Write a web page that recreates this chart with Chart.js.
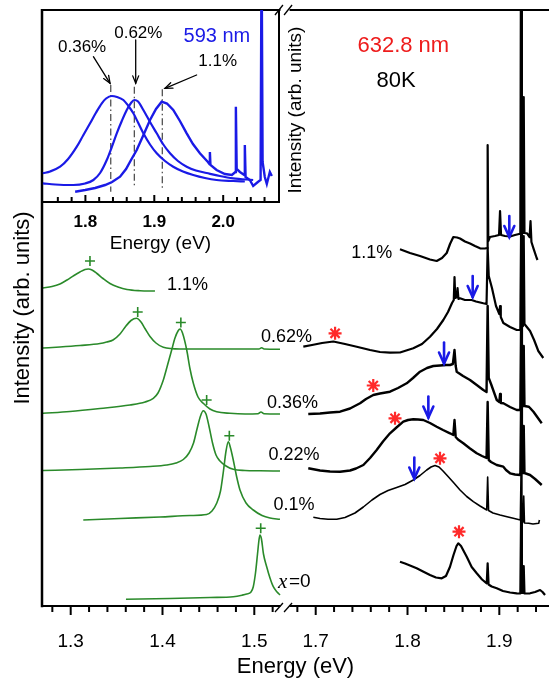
<!DOCTYPE html>
<html><head><meta charset="utf-8">
<script src="https://cdn.jsdelivr.net/npm/chart.js@4/dist/chart.umd.min.js"></script>
<style>
html,body{margin:0;padding:0;background:#fff;}
#wrap{position:relative;width:549px;height:681px;overflow:hidden;}
canvas{position:absolute;left:0;top:0;}
</style></head><body>
<div id="wrap"><canvas id="main" width="549" height="681" style="width:549px;height:681px"></canvas><canvas id="inset" width="320" height="260" style="width:320px;height:260px"></canvas></div>
<script>
// ---------------- DATA (energy in eV, intensity in arb. units) ----------------
// Main panel, band-edge PL (green, left segment)
const green_1_1 = [[1.2698,318],[1.2796,319.5],[1.2883,322],[1.2960,326],[1.3036,330.5],[1.3101,334],[1.3156,336.5],[1.3192,337],[1.3232,336],[1.3286,332.5],[1.3352,327.5],[1.3428,322.5],[1.3515,319],[1.3613,316.5],[1.3755,315.3],[1.3918,315]];
const green_0_62 = [[1.2698,258],[1.2883,259],[1.3101,260.5],[1.3319,262.5],[1.3392,264],[1.3461,266],[1.3537,272],[1.3602,280],[1.3657,285.5],[1.3717,287.7],[1.3766,284],[1.3809,277.5],[1.3864,269.5],[1.3929,263],[1.4009,258.7],[1.4191,257],[1.4408,257],[1.4735,257],[1.5051,257],[1.5081,258.3],[1.5106,257],[1.5280,256.7]];
const green_0_36 = [[1.2698,192.7],[1.2992,194.5],[1.3319,197.5],[1.3646,201],[1.3810,204],[1.3900,207.7],[1.3951,213],[1.4009,226],[1.4055,241],[1.4100,256],[1.4136,268],[1.4169,275],[1.4191,277],[1.4218,273],[1.4264,256],[1.4300,237],[1.4336,222.7],[1.4387,209],[1.4444,202.7],[1.4517,197],[1.4590,194.3],[1.4735,192.7],[1.4899,192],[1.5040,192.2],[1.5073,194],[1.5106,192.3],[1.5280,192]];
const green_0_22 = [[1.2698,135.5],[1.3101,136.5],[1.3537,138],[1.3864,139.5],[1.4046,141],[1.4147,143],[1.4227,146.5],[1.4289,153],[1.4338,163],[1.4376,177],[1.4414,190],[1.4444,195.3],[1.4474,192],[1.4506,180],[1.4545,163],[1.4583,151],[1.4626,145],[1.4692,140],[1.4771,136.7],[1.4899,135.5],[1.5062,135.2],[1.5280,135]];
const green_0_1 = [[1.3137,86],[1.3537,87.5],[1.3973,89],[1.4300,90.5],[1.4481,91.5],[1.4539,95],[1.4590,102.7],[1.4632,115],[1.4664,135],[1.4692,155],[1.4717,164.3],[1.4741,158],[1.4771,146],[1.4806,130],[1.4844,116],[1.4910,103],[1.4989,96],[1.5084,90.5],[1.5171,88],[1.5280,86.7]];
const green_0 = [[1.3602,6.7],[1.4081,7.5],[1.4517,8.5],[1.4771,9.3],[1.4866,10.8],[1.4917,12],[1.4964,14],[1.4989,19.3],[1.5013,33],[1.5035,52],[1.5051,66],[1.5062,71],[1.5078,67],[1.5100,52],[1.5135,39.3],[1.5171,28],[1.5207,19.3],[1.5248,14],[1.5280,11]];
const greenPeaks = [[1.3210,345],[1.3730,294],[1.4200,283.5],[1.4481,206],[1.4728,170.3],[1.5070,77.7]];

// Main panel, 632.8 nm excitation (black, right segment)
const black_1_1 = [[1.7918,356.7],[1.8027,353],[1.8136,350],[1.8245,346.5],[1.8318,345],[1.8376,348],[1.8427,353],[1.8463,362],[1.8499,369],[1.8540,368.5],[1.8572,367.5],[1.8626,364.5],[1.8681,362.5],[1.8735,360],[1.8790,357.7],[1.8844,357.5],[1.8866,358],[1.8873,461],[1.8880,365],[1.8898,369],[1.8953,370],[1.8997,371],[1.9008,395],[1.9019,371],[1.9062,370],[1.9117,369.5],[1.9171,371],[1.9215,372],[1.9229,372],[1.9237,700],[1.9246,374],[1.9258,373],[1.9266,509],[1.9274,373],[1.9302,372.7],[1.9330,369],[1.9340,385],[1.9350,364],[1.9372,357.7],[1.9407,348],[1.9416,346]];
const black_0_62 = [[1.6865,259.3],[1.6960,261],[1.7069,263],[1.7192,264.5],[1.7319,262],[1.7447,259.3],[1.7592,256],[1.7700,254],[1.7809,253.3],[1.7918,253.5],[1.8063,257.7],[1.8158,262],[1.8245,269.3],[1.8321,277],[1.8390,286],[1.8441,294],[1.8485,303],[1.8504,306],[1.8512,329],[1.8520,308],[1.8535,309],[1.8545,318],[1.8555,307],[1.8572,307.7],[1.8626,306],[1.8699,306],[1.8746,304.5],[1.8826,302.7],[1.8861,302],[1.8873,358],[1.8885,330],[1.8920,318],[1.8964,300],[1.9000,292],[1.9008,300],[1.9016,289],[1.9044,283],[1.9117,279],[1.9190,276],[1.9229,276],[1.9237,375],[1.9246,279],[1.9258,280],[1.9266,370],[1.9274,282],[1.9300,279],[1.9335,275],[1.9379,266],[1.9425,255],[1.9479,248]];
const black_0_36 = [[1.6919,192],[1.7047,192.5],[1.7156,193.5],[1.7265,194.3],[1.7374,197.5],[1.7483,202.7],[1.7548,207],[1.7627,211],[1.7700,212.5],[1.7809,214.3],[1.7897,218],[1.7991,222.7],[1.8060,228],[1.8136,234.3],[1.8212,238],[1.8281,240],[1.8354,240.5],[1.8419,241],[1.8463,241],[1.8494,242],[1.8512,256],[1.8525,240],[1.8536,234.3],[1.8605,230],[1.8681,226],[1.8754,221],[1.8826,216],[1.8861,214],[1.8873,300],[1.8885,228],[1.8910,222],[1.8972,206],[1.9000,204],[1.9008,212],[1.9016,203],[1.9044,202.7],[1.9117,199],[1.9190,196],[1.9229,196],[1.9237,280],[1.9246,199],[1.9258,200],[1.9266,260],[1.9274,200],[1.9320,199.3],[1.9335,198],[1.9372,194.3],[1.9413,189],[1.9462,182.7]];
const black_0_22 = [[1.6919,137.7],[1.7047,135.5],[1.7156,134.5],[1.7265,134.3],[1.7374,135.5],[1.7439,137.5],[1.7519,141],[1.7592,148],[1.7664,156],[1.7733,164.5],[1.7809,172.7],[1.7886,179],[1.7954,184.3],[1.8006,186],[1.8063,186.7],[1.8115,186.5],[1.8172,186],[1.8245,183],[1.8318,179.3],[1.8387,176],[1.8463,172.7],[1.8499,171],[1.8512,186],[1.8525,169],[1.8550,166.5],[1.8608,162.7],[1.8681,157.5],[1.8754,152.7],[1.8812,150],[1.8861,148],[1.8873,204],[1.8885,146],[1.8910,144],[1.8972,141],[1.9044,139.3],[1.9073,136],[1.9117,132.7],[1.9171,131.5],[1.9229,131],[1.9237,200],[1.9246,133],[1.9258,133],[1.9266,180],[1.9274,133],[1.9335,131],[1.9390,127],[1.9462,121]];
const black_0_1 = [[1.6974,88.7],[1.7047,87.5],[1.7134,86.8],[1.7229,86.7],[1.7319,88.5],[1.7428,93],[1.7519,99],[1.7613,106],[1.7700,111.5],[1.7788,115.5],[1.7882,118.5],[1.7973,121.5],[1.8063,126],[1.8136,130.5],[1.8209,136],[1.8256,139],[1.8300,140.5],[1.8343,139],[1.8387,135],[1.8427,131],[1.8496,124],[1.8572,116],[1.8645,109.5],[1.8717,104.3],[1.8790,100],[1.8863,96],[1.8873,129],[1.8883,95.5],[1.8931,93],[1.9008,91],[1.9073,89.5],[1.9152,87.7],[1.9229,86],[1.9237,135],[1.9246,84],[1.9258,84],[1.9266,110],[1.9274,83],[1.9320,82.7],[1.9367,82],[1.9429,82.7],[1.9437,86]];
const black_0 = [[1.7918,44.3],[1.7973,42.5],[1.8027,40.5],[1.8100,37.7],[1.8169,34.5],[1.8245,31],[1.8310,28.5],[1.8373,27.7],[1.8419,30],[1.8463,39.3],[1.8501,51],[1.8534,60],[1.8553,62.7],[1.8583,60],[1.8645,49.3],[1.8699,39],[1.8754,32.7],[1.8812,26.5],[1.8863,22.7],[1.8873,42.7],[1.8883,21.5],[1.8917,19.5],[1.8972,17.7],[1.9040,15],[1.9117,13.5],[1.9190,12.7],[1.9229,12.5],[1.9237,90],[1.9246,13],[1.9258,13],[1.9266,40],[1.9274,12.5],[1.9335,12.7],[1.9390,14],[1.9444,16],[1.9471,14],[1.9498,11]];
const redStars = [[1.7211,272.7],[1.7627,220.5],[1.7864,187.7],[1.8354,147.7],[1.8561,74.3]];
const blueArrowTips = [[1.9109,369],[1.8710,309],[1.8398,242.5],[1.8227,188.5],[1.8074,127.5]];

// Main axis ticks (eV)
const majorTicks = [1.3,1.4,1.5,1.7,1.8,1.9];
const minorTicks = [1.28,1.30,1.32,1.34,1.36,1.38,1.40,1.42,1.44,1.46,1.48,1.50,1.52,1.68,1.70,1.72,1.74,1.76,1.78,1.80,1.82,1.84,1.86,1.88,1.90,1.92,1.94];

// Main panel labels [text, energy, intensity]
const sampleLabels = [['1.1%',1.4272,321],['0.62%',1.5351,269],['0.36%',1.5416,203],['0.22%',1.5432,151],['0.1%',1.5432,101],['1.1%',1.7610,353]];

// Inset, 593 nm excitation (blue)
const blue_0_36 = [[1.7383,28.7],[1.7488,30.5],[1.7633,35.3],[1.7749,43],[1.7875,55.3],[1.7967,66.5],[1.8068,78.7],[1.8155,89.5],[1.8238,98.7],[1.8300,103.5],[1.8383,106],[1.8459,105],[1.8551,102],[1.8619,96.5],[1.8696,88.7],[1.8764,79.5],[1.8841,68.7],[1.8938,57.5],[1.9035,48.7],[1.9155,41],[1.9275,35.3],[1.9416,30.5],[1.9565,27],[1.9735,24],[1.9904,22],[2.0145,21],[2.0314,20.5]];
const blue_0_62 = [[1.7383,18.7],[1.7561,17.5],[1.7826,17],[1.7996,18.5],[1.8116,22],[1.8213,29],[1.8310,42],[1.8383,55],[1.8455,68.7],[1.8528,81],[1.8600,92],[1.8662,99],[1.8710,102],[1.8764,100.5],[1.8841,92],[1.8938,80],[1.9035,68.7],[1.9126,58],[1.9228,48.7],[1.9343,41],[1.9470,35.3],[1.9604,31.5],[1.9759,29],[1.9952,26],[2.0145,23.7],[2.0435,22]];
const blue_1_1 = [[1.7851,10.3],[1.7996,12],[1.8141,14],[1.8286,17],[1.8387,20],[1.8503,25.3],[1.8590,33],[1.8662,42],[1.8745,52],[1.8836,66],[1.8938,82],[1.9025,93],[1.9107,100.3],[1.9184,98.5],[1.9275,92],[1.9372,81],[1.9470,68.7],[1.9561,58],[1.9662,48.7],[1.9778,40],[1.9800,38],[1.9807,50],[1.9815,37],[1.9904,32],[2.0025,28],[2.0126,27],[2.0177,30],[2.0184,95.3],[2.0196,33],[2.0243,30],[2.0307,27],[2.0314,57],[2.0325,25],[2.0387,22],[2.0435,16],[2.0503,20],[2.0543,22],[2.0557,260],[2.0572,40],[2.0604,25],[2.0633,18],[2.0677,30],[2.0706,26]];
const peakLines = [[1.8368,117,10.3],[1.8710,115.3,13.7],[1.9116,112.7,13.7]];
const insetArrows = [[1.8116,145.3,1.8358,118.7],[1.8730,162,1.8730,118.7],[1.9614,127,1.9155,113.7]];
const insetLabels = [['0.36%',1.7952,154.3],['0.62%',1.8768,168.7],['1.1%',1.9920,141]];
const insetTicksMajor = [1.8,1.9,2.0];
const insetTicksMinor = [1.76,1.78,1.80,1.82,1.84,1.86,1.88,1.90,1.92,1.94,1.96,1.98,2.00,2.02,2.04,2.06];

// ---------------- RENDERING ----------------
const FONT = '"Liberation Sans", Arial, Helvetica, sans-serif';
Chart.defaults.font.family = FONT;
Chart.defaults.color = '#000';
const GREEN = '#2a8a2a', BLACK = '#000', BLUE = '#1a1ae6', RED = '#ff2a2a';
const OFFSET = 0.1331;            // shift of the right (broken) axis segment
const toAxis = e => e > 1.6 ? e - OFFSET : e;
const pts = arr => arr.map(([e, h]) => ({x: toAxis(e), y: h}));
const lineDs = (arr, color, w, smooth) => ({data: pts(arr), borderColor: color, borderWidth: w, showLine: true,
  pointRadius: 0, fill: false, tension: 0, cubicInterpolationMode: smooth ? 'monotone' : 'default', borderJoinStyle: 'round'});

function seg(ctx, x1, y1, x2, y2) { ctx.beginPath(); ctx.moveTo(x1, y1); ctx.lineTo(x2, y2); ctx.stroke(); }

const mainDecor = {
  id: 'mainDecor',
  afterDatasetsDraw(chart) {
    const {ctx, chartArea: a, scales: {x, y}} = chart;
    ctx.save();
    ctx.strokeStyle = '#000'; ctx.lineCap = 'butt';
    const gL = x.getPixelForValue(1.5285), gR = x.getPixelForValue(toAxis(1.6715));
    // frame
    ctx.lineWidth = 2.5; seg(ctx, a.left, a.top - 1, a.left, a.bottom + 1.2);
    ctx.lineWidth = 2;
    seg(ctx, a.left - 1, a.bottom, gL, a.bottom); seg(ctx, gR, a.bottom, a.right, a.bottom);
    seg(ctx, a.left - 1, a.top, gL, a.top); seg(ctx, gR, a.top, a.right, a.top);
    // break marks
    ctx.lineWidth = 1.3;
    [gL - 1.5, gR - 1.5].forEach(cx => { seg(ctx, cx - 4, a.bottom + 6, cx + 4, a.bottom - 3); seg(ctx, cx - 4, a.top + 5, cx + 4, a.top - 5); });
    // ticks (outward)
    ctx.lineWidth = 2;
    minorTicks.forEach(e => {
      const px = x.getPixelForValue(toAxis(e));
      const major = Math.abs(e * 10 - Math.round(e * 10)) < 1e-6;
      seg(ctx, px, a.bottom, px, a.bottom + (major ? 9 : 6));
    });
    // blue arrows
    ctx.strokeStyle = BLUE; ctx.lineWidth = 2.6; ctx.lineCap = 'round';
    blueArrowTips.forEach(([e, h]) => {
      const px = x.getPixelForValue(toAxis(e)), py = y.getPixelForValue(h);
      seg(ctx, px, py - 21, px, py);
      ctx.beginPath(); ctx.moveTo(px - 5, py - 11); ctx.lineTo(px, py); ctx.lineTo(px + 5, py - 11); ctx.stroke();
    });
    // labels
    ctx.fillStyle = '#000'; ctx.textAlign = 'center'; ctx.textBaseline = 'middle';
    ctx.font = '18px ' + FONT;
    sampleLabels.forEach(([t, e, h]) => ctx.fillText(t, x.getPixelForValue(toAxis(e)), y.getPixelForValue(h)));
    // x = 0
    const zx = x.getPixelForValue(1.5465), zy = y.getPixelForValue(24);
    ctx.textAlign = 'left';
    ctx.font = 'italic 21px "Liberation Serif", "Times New Roman", serif';
    ctx.fillText('x', zx - 19, zy);
    ctx.font = '19px ' + FONT;
    ctx.fillText('=0', zx - 8, zy);
    ctx.textAlign = 'center';
    ctx.font = '22px ' + FONT;
    ctx.fillStyle = '#ee1c1c';
    ctx.fillText('632.8 nm', x.getPixelForValue(toAxis(1.7954)), y.getPixelForValue(560));
    ctx.fillStyle = '#000';
    ctx.fillText('80K', x.getPixelForValue(toAxis(1.7875)), y.getPixelForValue(525));
    ctx.restore();
  }
};

const mainChart = new Chart(document.getElementById('main'), {
  type: 'scatter',
  data: {datasets: [
    lineDs(green_1_1, GREEN, 1.6, true), lineDs(green_0_62, GREEN, 1.6, true), lineDs(green_0_36, GREEN, 1.6, true),
    lineDs(green_0_22, GREEN, 1.6, true), lineDs(green_0_1, GREEN, 1.6, true), lineDs(green_0, GREEN, 1.6, true),
    lineDs(black_1_1, BLACK, 2.2, false), lineDs(black_0_62, BLACK, 2.2, false), lineDs(black_0_36, BLACK, 2.4, false),
    lineDs(black_0_22, BLACK, 2.4, false), lineDs(black_0_1, BLACK, 1.6, false), lineDs(black_0, BLACK, 2.2, false),
    {data: pts(greenPeaks), pointStyle: 'cross', pointRadius: 5, borderColor: GREEN, borderWidth: 1.6, showLine: false},
    {data: pts(redStars), pointStyle: 'star', pointRadius: 6.5, borderColor: RED, borderWidth: 2.2, showLine: false}
  ]},
  options: {
    responsive: false, animation: false, events: [],
    layout: {autoPadding: false, padding: {top: 10, right: 0, left: 0, bottom: 0}},
    plugins: {legend: {display: false}, tooltip: {enabled: false}},
    scales: {
      x: {type: 'linear', min: 1.26874, max: 1.82103,
        grid: {display: false, drawTicks: false}, border: {display: false},
        afterBuildTicks: s => { s.ticks = majorTicks.map(e => ({value: toAxis(e)})); },
        afterFit: s => { s.height = 75; },
        ticks: {autoSkip: false, maxRotation: 0, padding: 24, font: {size: 19},
          callback: v => (v > 1.535 ? v + OFFSET : v).toFixed(1)},
        title: {display: true, text: 'Energy (eV)', font: {size: 22}, padding: {top: 0, bottom: 1}}
      },
      y: {type: 'linear', min: 0, max: 596, position: 'left',
        grid: {display: false, drawTicks: false}, border: {display: false}, ticks: {display: false},
        afterFit: s => { s.width = 42; },
        title: {display: true, text: 'Intensity (arb. units)', font: {size: 22}, padding: {top: 10, bottom: 0}}
      }
    }
  },
  plugins: [mainDecor]
});

// ---------------- INSET ----------------
const insetDecor = {
  id: 'insetDecor',
  afterDatasetsDraw(chart) {
    const {ctx, chartArea: a, scales: {x, y}} = chart;
    ctx.save();
    ctx.strokeStyle = '#000'; ctx.lineWidth = 2;
    seg(ctx, a.left - 1, a.bottom, a.right + 1, a.bottom);
    seg(ctx, a.right, a.top - 1, a.right, a.bottom + 1);
    insetTicksMinor.forEach(e => {
      const px = x.getPixelForValue(e);
      const major = Math.abs(e * 10 - Math.round(e * 10)) < 1e-6;
      seg(ctx, px, a.bottom, px, a.bottom - (major ? 7 : 5));
    });
    // arrows
    ctx.lineWidth = 1.3; ctx.lineCap = 'round';
    insetArrows.forEach(([e1, h1, e2, h2]) => {
      const x1 = x.getPixelForValue(e1), y1 = y.getPixelForValue(h1), x2 = x.getPixelForValue(e2), y2 = y.getPixelForValue(h2);
      seg(ctx, x1, y1, x2, y2);
      const ang = Math.atan2(y2 - y1, x2 - x1), L = 8;
      ctx.beginPath();
      ctx.moveTo(x2 - L * Math.cos(ang - 0.38), y2 - L * Math.sin(ang - 0.38));
      ctx.lineTo(x2, y2);
      ctx.lineTo(x2 - L * Math.cos(ang + 0.38), y2 - L * Math.sin(ang + 0.38));
      ctx.stroke();
    });
    ctx.fillStyle = '#000'; ctx.textAlign = 'center'; ctx.textBaseline = 'middle';
    ctx.font = '17px ' + FONT;
    insetLabels.forEach(([t, e, h]) => ctx.fillText(t, x.getPixelForValue(e), y.getPixelForValue(h)));
    ctx.fillStyle = BLUE; ctx.font = '20px ' + FONT;
    ctx.fillText('593 nm', x.getPixelForValue(1.9909), y.getPixelForValue(165.3));
    // right-hand axis title, reading upward
    ctx.fillStyle = '#000'; ctx.font = '19px ' + FONT;
    ctx.translate(a.right + 17, (a.top + a.bottom) / 2 + 4);
    ctx.rotate(-Math.PI / 2);
    ctx.fillText('Intensity (arb. units)', 0, 0);
    ctx.restore();
  }
};

const insetPts = arr => arr.map(([e, h]) => ({x: e, y: h}));
const dashDs = peakLines.map(([e, h1, h2]) => ({data: [{x: e, y: h1}, {x: e, y: h2}], borderColor: '#444', borderWidth: 1.2,
  borderDash: [7, 3, 1.5, 3], showLine: true, pointRadius: 0}));

const insetChart = new Chart(document.getElementById('inset'), {
  type: 'scatter',
  data: {datasets: [
    {data: insetPts(blue_0_36), borderColor: BLUE, borderWidth: 2.2, showLine: true, pointRadius: 0, cubicInterpolationMode: 'monotone'},
    {data: insetPts(blue_0_62), borderColor: BLUE, borderWidth: 2.2, showLine: true, pointRadius: 0, cubicInterpolationMode: 'monotone'},
    {data: insetPts(blue_1_1), borderColor: BLUE, borderWidth: 2.4, showLine: true, pointRadius: 0},
    ...dashDs
  ]},
  options: {
    responsive: false, animation: false, events: [],
    layout: {autoPadding: false, padding: {top: 10, right: 41, left: 42, bottom: 0}},
    plugins: {legend: {display: false}, tooltip: {enabled: false}},
    scales: {
      x: {type: 'linear', min: 1.737, max: 2.081,
        grid: {display: false, drawTicks: false}, border: {display: false},
        afterBuildTicks: s => { s.ticks = insetTicksMajor.map(e => ({value: e})); },
        afterFit: s => { s.height = 58; },
        ticks: {autoSkip: false, maxRotation: 0, padding: 10, font: {size: 17, weight: 'bold'}, callback: v => v.toFixed(1)},
        title: {display: true, text: 'Energy (eV)', font: {size: 19}, padding: {top: 0, bottom: 5}}
      },
      y: {display: false, min: 0, max: 192}
    }
  },
  plugins: [insetDecor]
});
</script>
</body></html>
